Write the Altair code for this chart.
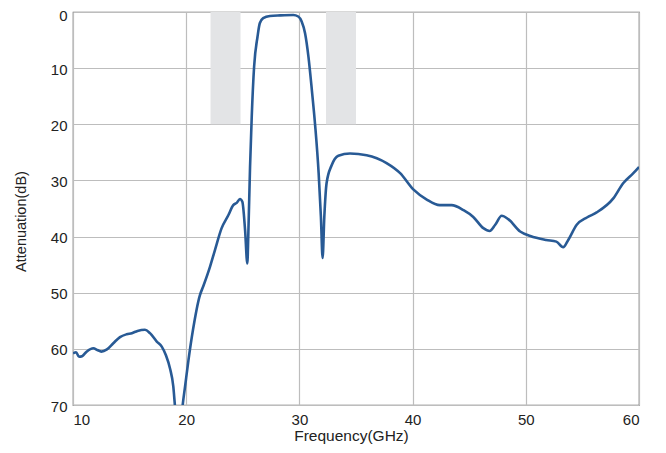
import altair as alt
import pandas as pd

freq = [10.0, 10.27, 10.53, 10.8, 11.2, 11.8, 12.15, 12.5, 13.0, 13.56, 14.15, 14.74, 15.2, 15.7,
        16.36, 16.8, 17.4, 17.84, 18.2, 18.57, 18.86, 19.0, 19.35, 19.69, 19.9, 20.2, 20.6, 21.2,
        21.5, 22.1, 22.54, 23.13, 23.72, 24.16, 24.46, 24.75, 24.96, 25.2, 25.4, 25.49, 25.64,
        25.79, 26.0, 26.3, 26.5, 26.8, 27.4, 28.3, 29.46, 29.9, 30.2, 30.5, 30.8, 31.1, 31.4,
        31.7, 31.9, 32.05, 32.2, 32.4, 32.85, 33.44, 34.47, 35.94, 37.7, 38.9, 40.06, 41.25,
        42.4, 43.45, 44.5, 45.36, 46.25, 46.8, 47.3, 47.87, 48.45, 49.5, 50.4, 51.8, 52.7, 53.3,
        53.75, 54.5, 55.4, 56.26, 57.73, 58.6, 59.5, 60.0]
atten = [60.8, 60.6, 61.4, 61.3, 60.5, 59.9, 60.2, 60.5, 60.1, 59.0, 57.9, 57.4, 57.2, 56.8,
         56.6, 57.2, 58.7, 59.6, 61.1, 63.5, 66.7, 70.0, 78.0, 70.0, 66.7, 62.0, 56.6, 50.5,
         48.9, 45.4, 42.4, 38.5, 36.2, 34.4, 34.0, 33.3, 33.8, 38.8, 44.8, 39.4, 27.6,
         18.6, 9.7, 4.4, 2.0, 1.1, 0.7, 0.6, 0.53, 0.8, 1.7, 3.8, 8.0, 13.9, 20.4,
         28.7, 36.5, 43.8, 36.5, 30.5, 27.3, 25.6, 25.2, 25.5, 26.9, 28.7, 31.6, 33.4,
         34.4, 34.4, 35.3, 36.5, 38.5, 39.0, 37.9, 36.3, 36.9, 39.1, 39.9, 40.6, 40.9, 41.9,
         40.6, 37.9, 36.6, 35.7, 33.2, 30.5, 28.7, 27.6]

band_start = [22.15, 32.35]
band_end = [24.8, 35.0]
band_top = [0, 0]
band_bottom = [20, 20]

x_ticks = [10, 20, 30, 40, 50, 60]
y_ticks = [0, 10, 20, 30, 40, 50, 60, 70]

curve = pd.DataFrame({"f": freq, "a": atten})
bands = pd.DataFrame({"x1": band_start, "x2": band_end, "y1": band_top, "y2": band_bottom})

xs = alt.Scale(domain=[10, 60], nice=False, zero=False)
ys = alt.Scale(domain=[0, 70], reverse=True, nice=False)

band_layer = alt.Chart(bands).mark_rect(color="#e3e4e6").encode(
    x=alt.X("x1:Q", scale=xs, title="Frequency(GHz)",
            axis=alt.Axis(values=x_ticks, labelPadding=7, titlePadding=1,
                          titleFontSize=15.5, titleX=278)),
    x2="x2:Q",
    y=alt.Y("y1:Q", scale=ys, title="Attenuation(dB)",
            axis=alt.Axis(values=y_ticks, labelPadding=6, titlePadding=22,
                          titleFontSize=14.5, titleY=209,
                          labelOffset={"condition": {"test": "datum.value == 0", "value": 3},
                                       "value": 1})),
    y2="y2:Q",
)

line_layer = alt.Chart(curve).mark_line(color="#285a95", strokeWidth=2.6, clip=True,
                                        interpolate="monotone").encode(
    x=alt.X("f:Q", scale=xs),
    y=alt.Y("a:Q", scale=ys),
)

chart = alt.layer(band_layer, line_layer).properties(
    width=566, height=393,
    autosize=alt.AutoSizeParams(type="none"),
    padding={"left": 65, "top": 4, "right": 19, "bottom": 46},
).configure_view(
    stroke="#666666", strokeWidth=1.2
).configure_axis(
    grid=True, gridColor="#bdbdbd", gridWidth=1.2,
    domain=False, ticks=False,
    labelFont="Liberation Sans", labelFontSize=15, labelColor="#222222",
    titleFont="Liberation Sans", titleFontWeight="normal", titleColor="#222222",
)

chart.save("out.html", embed_options={"renderer": "svg", "actions": False})
